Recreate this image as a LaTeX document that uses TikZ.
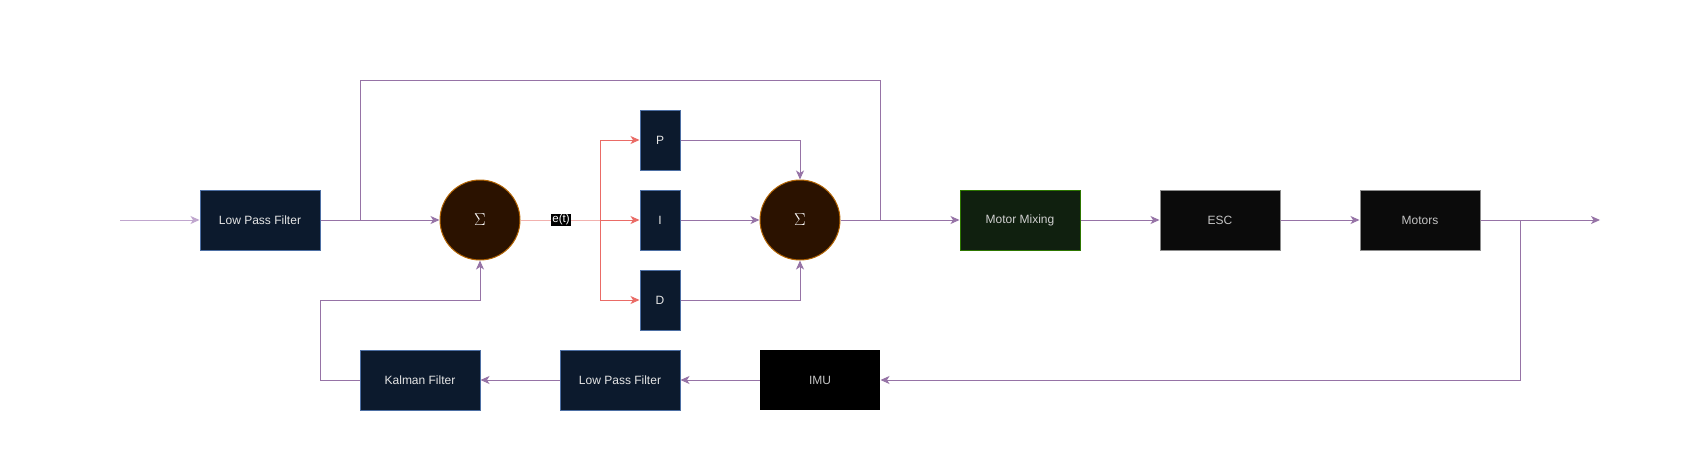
\documentclass[tikz,border=0pt]{standalone}
\usepackage{fontspec}
\setmainfont{Liberation Sans}
\usetikzlibrary{arrows.meta}
\definecolor{navyfill}{HTML}{0C1A2D}
\definecolor{navyline}{HTML}{4D6FA3}
\definecolor{sumfill}{HTML}{2B1200}
\definecolor{sumline}{HTML}{B46504}
\definecolor{mmfill}{HTML}{10200F}
\definecolor{mmline}{HTML}{2D7600}
\definecolor{blkfill}{HTML}{0B0B0B}
\definecolor{blkline}{HTML}{8C8C8C}
\definecolor{purp}{HTML}{9673A6}
\definecolor{lpurp}{HTML}{C0A6CE}
\definecolor{redl}{HTML}{EA6B66}
\definecolor{lred}{HTML}{F2B1AE}
\definecolor{txt}{HTML}{E6E6E6}
\definecolor{gtxt}{HTML}{C4C4C4}
\begin{document}
\begin{tikzpicture}[x=1pt,y=-1pt,
  font=\fontsize{12}{14}\selectfont,
  boxbase/.style={rectangle, minimum width=120pt, minimum height=60pt, inner sep=0pt, line width=1pt},
  navybox/.style={boxbase, fill=navyfill, draw=navyline, text=txt},
  narrow/.style={navybox, minimum width=40pt},
  sumc/.style={circle, minimum size=80pt, inner sep=0pt, fill=sumfill, draw=sumline, line width=1pt, text=white},
  mmbox/.style={boxbase, fill=mmfill, draw=mmline, text=gtxt!80!white},
  blkbox/.style={boxbase, fill=blkfill, draw=blkline, text=gtxt},
  imubox/.style={boxbase, fill=black, text=gtxt},
  conn/.style={draw=purp, line width=1pt},
  arr/.style={conn, -{Stealth[length=9pt,width=8pt,inset=2.5pt]}},
  rconn/.style={draw=redl, line width=1pt},
  rarr/.style={rconn, -{Stealth[length=9pt,width=8pt,inset=2.5pt]}},
  lbl/.style={fill=black, text=white, inner sep=1pt, font=\fontsize{11.5}{12}\selectfont}
]
\useasboundingbox (0,0) rectangle (1681,461);

\node[navybox] (lpf1) at (260,220) {Low Pass Filter};
\node[sumc] (s1) at (480,220) {\LARGE$\Sigma$};
\node[narrow] (p) at (660,140) {P};
\node[narrow] (i) at (660,220) {I};
\node[narrow] (d) at (660,300) {D};
\node[sumc] (s2) at (800,220) {\LARGE$\Sigma$};
\node[mmbox] (mm) at (1020,220) {Motor Mixing};
\node[blkbox] (esc) at (1220,220) {ESC};
\node[blkbox] (mot) at (1420,220) {Motors};
\node[imubox] (imu) at (820,380) {IMU};
\node[navybox] (lpf2) at (620,380) {Low Pass Filter};
\node[navybox] (kal) at (420,380) {Kalman Filter};

\coordinate (in) at (120,220);
\coordinate (out) at (1600,220);
\coordinate (j1) at (360,220);
\coordinate (tl) at (360,80);
\coordinate (tr) at (880,80);
\coordinate (j2) at (880,220);
\coordinate (j3) at (1520,220);
\coordinate (rb) at (600,220);
\coordinate (k1) at (320,380);
\coordinate (k2) at (320,300);

% forward path
\draw[arr, draw=lpurp] (in) -- (lpf1);
\draw[arr] (lpf1) -- (s1);
\draw[conn] (j1) -- (tl) -- (tr) -- (j2);
\draw[rconn, draw=lred] (s1) -- (rb);
\draw[rarr] (rb) -- (i);
\draw[rarr] (rb) |- (p);
\draw[rarr] (rb) |- (d);
\node[lbl] (et) at (561,220) {e(t)};
\draw[arr] (p) -| (s2);
\draw[arr] (i) -- (s2);
\draw[arr] (d) -| (s2);
\draw[arr] (s2) -- (mm);
\draw[arr] (mm) -- (esc);
\draw[arr] (esc) -- (mot);
\draw[arr] (mot) -- (out);

% feedback path
\draw[arr] (j3) |- (imu);
\draw[arr] (imu) -- (lpf2);
\draw[arr] (lpf2) -- (kal);
\draw[conn] (kal) -- (k1) -- (k2);
\draw[arr] (k2) -| (s1);
\end{tikzpicture}
\end{document}
